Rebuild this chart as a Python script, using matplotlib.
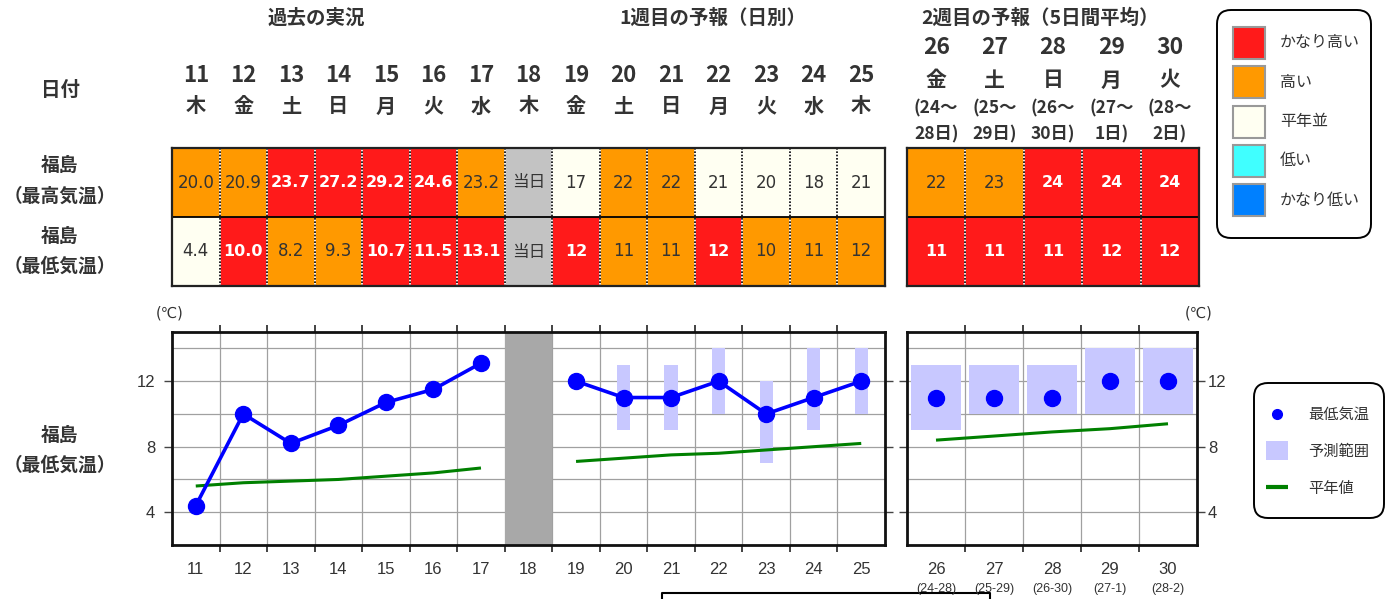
import matplotlib
matplotlib.use('Agg')
import matplotlib.pyplot as plt
from matplotlib.patches import Rectangle, FancyBboxPatch
from matplotlib.transforms import blended_transform_factory as btf
from matplotlib.ticker import FixedLocator, NullFormatter, FixedFormatter

plt.rcParams['font.family'] = ['DejaVu Sans', 'Noto Sans CJK JP']
CJK = ['Noto Sans CJK JP', 'DejaVu Sans']

# ---------------- data ----------------
days1 = list(range(11, 26))
weekdays1 = ['木', '金', '土', '日', '月', '火', '水', '木', '金', '土', '日', '月', '火', '水', '木']
tmax1 = ['20.0', '20.9', '23.7', '27.2', '29.2', '24.6', '23.2', '当日', '17', '22', '22', '21', '20', '18', '21']
tmax1_cls = [1, 1, 2, 2, 2, 2, 1, None, 0, 1, 1, 0, 0, 0, 0]
tmin1 = ['4.4', '10.0', '8.2', '9.3', '10.7', '11.5', '13.1', '当日', '12', '11', '11', '12', '10', '11', '12']
tmin1_cls = [0, 2, 1, 1, 2, 2, 2, None, 2, 1, 1, 2, 1, 1, 1]

days2 = [26, 27, 28, 29, 30]
weekdays2 = ['金', '土', '日', '月', '火']
period_top = ['(24～', '(25～', '(26～', '(27～', '(28～']
period_bot = ['28日)', '29日)', '30日)', '1日)', '2日)']
period_tick = ['(24-28)', '(25-29)', '(26-30)', '(27-1)', '(28-2)']
tmax2 = ['22', '23', '24', '24', '24']
tmax2_cls = [1, 1, 2, 2, 2]
tmin2 = ['11', '11', '11', '12', '12']
tmin2_cls = [2, 2, 2, 2, 2]

obs_days = [11, 12, 13, 14, 15, 16, 17]
obs_min = [4.4, 10.0, 8.2, 9.3, 10.7, 11.5, 13.1]
obs_normal = [5.6, 5.8, 5.9, 6.0, 6.2, 6.4, 6.7]
today = 18
fc_days = [19, 20, 21, 22, 23, 24, 25]
fc_min = [12, 11, 11, 12, 10, 11, 12]
fc_lo = [None, 9, 9, 10, 7, 9, 10]
fc_hi = [None, 13, 13, 14, 12, 14, 14]
fc_normal = [7.1, 7.3, 7.5, 7.6, 7.8, 8.0, 8.2]
wk2_min = [11, 11, 11, 12, 12]
wk2_lo = [9, 10, 10, 10, 10]
wk2_hi = [13, 13, 13, 14, 14]
wk2_normal = [8.4, 8.65, 8.9, 9.1, 9.4]

legend_labels = ['かなり高い', '高い', '平年並', '低い', 'かなり低い']
CLS_COLORS = {2: '#FF1A1A', 1: '#FF9900', 0: '#FFFFF2', -1: '#40FFFF', -2: '#0080FF'}
legend_cls = [2, 1, 0, -1, -2]
GRAY_CELL = '#C3C3C3'
TXT = '#333333'

# ---------------- figure ----------------
W, H = 1392, 599
fig = plt.figure(figsize=(W / 100, H / 100), dpi=100)


def add_ax(x0, y0, x1, y1):
    return fig.add_axes([x0 / W, 1 - y1 / H, (x1 - x0) / W, (y1 - y0) / H])


bg = fig.add_axes([0, 0, 1, 1])
bg.set_xlim(0, W)
bg.set_ylim(H, 0)
bg.axis('off')


def draw_table(ax, days, rows_vals, rows_cls):
    ax.set_xlim(days[0] - 0.5, days[-1] + 0.5)
    ax.set_ylim(2, 0)
    ax.set_xticks([])
    ax.set_yticks([])
    for r, (vals, cls) in enumerate(zip(rows_vals, rows_cls)):
        for d, v, c in zip(days, vals, cls):
            fc = GRAY_CELL if c is None else CLS_COLORS[c]
            ax.add_patch(Rectangle((d - 0.5, r), 1, 1, facecolor=fc, edgecolor='none', zorder=1))
            strong = c == 2
            ax.text(d, r + 0.5, v, ha='center', va='center',
                    color='white' if strong else TXT,
                    fontweight='bold' if strong else 'normal',
                    fontsize=11.5 if strong else 12, zorder=3)
    for b in days[:-1]:
        ax.plot([b + 0.5, b + 0.5], [0, 2], color='white', lw=1.2, zorder=2)
        ax.plot([b + 0.5, b + 0.5], [0, 2], color='black', lw=1.2, ls=(0, (1, 1)), zorder=2)
    ax.plot([days[0] - 0.5, days[-1] + 0.5], [1, 1], color='black', lw=1.3, zorder=2)
    for s in ax.spines.values():
        s.set_linewidth(1.6)
        s.set_color('#222222')


tab1 = add_ax(172, 148, 885, 286)
draw_table(tab1, days1, [tmax1, tmin1], [tmax1_cls, tmin1_cls])
tab2 = add_ax(907, 148, 1199, 286)
draw_table(tab2, days2, [tmax2, tmin2], [tmax2_cls, tmin2_cls])

# headers
t1 = btf(tab1.transData, bg.transData)
for d, wd in zip(days1, weekdays1):
    bg.text(d, 75, str(d), transform=t1, ha='center', va='center', fontsize=16,
            fontweight='bold', color=TXT, family=CJK)
    bg.text(d, 106, wd, transform=t1, ha='center', va='center', fontsize=14.5,
            fontweight='bold', color=TXT, family=CJK)
t2 = btf(tab2.transData, bg.transData)
for d, wd, pt, pb in zip(days2, weekdays2, period_top, period_bot):
    bg.text(d, 48, str(d), transform=t2, ha='center', va='center', fontsize=16.5,
            fontweight='bold', color=TXT, family=CJK)
    bg.text(d, 80, wd, transform=t2, ha='center', va='center', fontsize=15,
            fontweight='bold', color=TXT, family=CJK)
    bg.text(d, 108, pt, transform=t2, ha='center', va='center', fontsize=12.5,
            fontweight='bold', color=TXT, family=CJK)
    bg.text(d, 134, pb, transform=t2, ha='center', va='center', fontsize=12.5,
            fontweight='bold', color=TXT, family=CJK)

bg.text(316, 18, '過去の実況', ha='center', va='center', fontsize=14, fontweight='bold',
        color=TXT, family=CJK)
bg.text(713, 18, '1週目の予報（日別）', ha='center', va='center', fontsize=14, fontweight='bold',
        color=TXT, family=CJK)
bg.text(1040, 18, '2週目の予報（5日間平均）', ha='center', va='center', fontsize=14,
        fontweight='bold', color=TXT, family=CJK)

bg.text(60, 90, '日付', ha='center', va='center', fontsize=14, fontweight='bold', color=TXT, family=CJK)
for y, s in [(165, '福島'), (196, '（最高気温）'), (236, '福島'), (266, '（最低気温）'),
             (435, '福島'), (465, '（最低気温）')]:
    bg.text(60, y, s, ha='center', va='center', fontsize=13.5, fontweight='bold', color=TXT, family=CJK)

# legend 1
bg.add_patch(FancyBboxPatch((1217, 10), 154, 228, boxstyle='round,pad=0,rounding_size=14',
                            facecolor='white', edgecolor='black', lw=1.4))
for i, (c, lab) in enumerate(zip(legend_cls, legend_labels)):
    yc = 43 + i * 39.3
    bg.add_patch(Rectangle((1233, yc - 16), 32, 32, facecolor=CLS_COLORS[c], edgecolor='#999999', lw=1.5))
    bg.text(1280, yc, lab, ha='left', va='center', fontsize=11.5, color=TXT, family=CJK)

# ---------------- plots ----------------
BLUE = '#0000FF'
GREEN = '#008000'
RANGE = '#C8C8FF'
TICKFONT = 'Liberation Sans'


def style_plot(ax, days, ylab_side):
    ax.set_xlim(days[0] - 0.5, days[-1] + 0.5)
    ax.set_ylim(2, 15)
    ax.xaxis.set_major_locator(FixedLocator([d + 0.5 for d in days[:-1]]))
    ax.xaxis.set_major_formatter(NullFormatter())
    ax.xaxis.set_minor_locator(FixedLocator(days))
    ax.xaxis.set_minor_formatter(FixedFormatter([str(d) for d in days]))
    ax.tick_params(axis='x', which='major', direction='out', length=5, width=1.2,
                   top=True, bottom=True, color='#222222')
    ax.tick_params(axis='x', which='minor', length=0, pad=12, labelsize=12, labelcolor=TXT)
    ax.yaxis.set_major_locator(FixedLocator([4, 8, 12]))
    ax.yaxis.set_minor_locator(FixedLocator([2, 6, 10, 14]))
    ax.tick_params(axis='y', which='major', direction='out', length=6, width=1.0,
                   left=True, right=True, labelsize=12, labelcolor=TXT, color='#444444',
                   labelleft=(ylab_side == 'left'), labelright=(ylab_side == 'right'),
                   pad=6 if ylab_side == 'left' else 2)
    ax.tick_params(axis='y', which='minor', length=0)
    for lab in ax.get_xticklabels(minor=True) + ax.get_yticklabels():
        lab.set_family(TICKFONT)
    ax.set_axisbelow(True)
    ax.xaxis.grid(True, which='major', color='#A0A0A0', lw=0.9)
    ax.yaxis.grid(True, which='both', color='#A0A0A0', lw=0.9)
    for s in ax.spines.values():
        s.set_linewidth(2.0)
        s.set_color('#111111')


p1 = add_ax(172, 332, 885, 545)
style_plot(p1, days1, 'left')
p1.axvspan(today - 0.5, today + 0.5, color='#A8A8A8', zorder=1.5, lw=0)
rd = [d for d, lo in zip(fc_days, fc_lo) if lo is not None]
rlo = [lo for lo in fc_lo if lo is not None]
rhi = [hi for hi in fc_hi if hi is not None]
p1.bar(rd, [h - l for h, l in zip(rhi, rlo)], bottom=rlo, width=0.28, color=RANGE, zorder=2)
p1.plot(obs_days, obs_normal, color=GREEN, lw=2.2, zorder=3, solid_capstyle='butt')
p1.plot(fc_days, fc_normal, color=GREEN, lw=2.2, zorder=3, solid_capstyle='butt')
p1.plot(obs_days, obs_min, color=BLUE, lw=2.6, marker='o', ms=11.5, zorder=4)
p1.plot(fc_days, fc_min, color=BLUE, lw=2.6, marker='o', ms=11.5, zorder=4)

p2 = add_ax(907, 332, 1197, 545)
style_plot(p2, days2, 'right')
p2.bar(days2, [h - l for h, l in zip(wk2_hi, wk2_lo)], bottom=wk2_lo, width=0.87, color=RANGE, zorder=2)
p2.plot(days2, wk2_normal, color=GREEN, lw=2.2, zorder=3, solid_capstyle='butt')
p2.plot(days2, wk2_min, color=BLUE, lw=0, marker='o', ms=11.5, zorder=4)
tp2 = btf(p2.transData, bg.transData)
for d, s in zip(days2, period_tick):
    bg.text(d, 589, s, transform=tp2, ha='center', va='center', fontsize=9, color=TXT, family=TICKFONT)

bg.text(170, 313, '(℃)', ha='center', va='center', fontsize=10.5, color=TXT)
bg.text(1199, 313, '(℃)', ha='center', va='center', fontsize=10.5, color=TXT)

# legend 2
bg.add_patch(FancyBboxPatch((1254, 383), 130, 135, boxstyle='round,pad=0,rounding_size=14',
                            facecolor='white', edgecolor='black', lw=1.4))
bg.plot([1277], [414], marker='o', ms=7, color=BLUE, lw=0)
bg.add_patch(Rectangle((1266, 441), 22, 19, facecolor=RANGE, edgecolor='none'))
bg.plot([1266, 1288], [487, 487], color=GREEN, lw=3, solid_capstyle='butt')
for y, s in [(414, '最低気温'), (451, '予測範囲'), (488, '平年値')]:
    bg.text(1308, y, s, ha='left', va='center', fontsize=11, color=TXT, family=CJK)

# partially visible box at the bottom
bg.plot([662, 662, 990, 990], [605, 593, 593, 605], color='black', lw=1.5, clip_on=False)

fig.savefig('out.png', dpi=100)
